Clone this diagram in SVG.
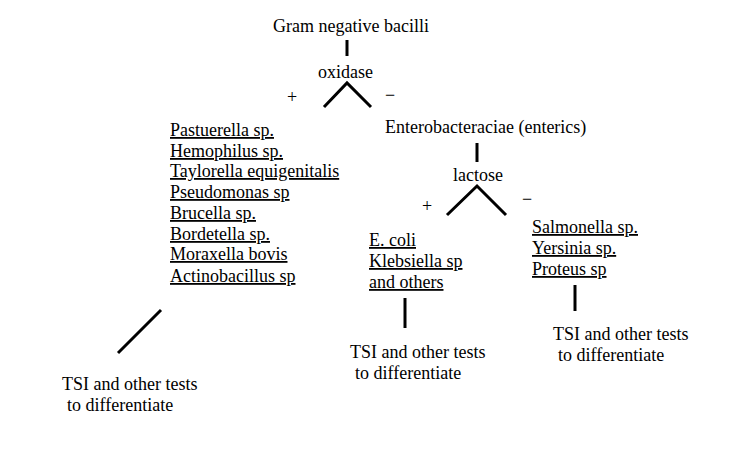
<svg xmlns="http://www.w3.org/2000/svg" width="736" height="465" viewBox="0 0 736 465">
<style>
text{font-family:"Liberation Serif","Times New Roman",serif;font-size:18px;fill:#000}
.u{text-decoration:underline}
.c{stroke:#000;stroke-width:3;fill:none}
</style>
<rect width="736" height="465" fill="#fff"/>
<g id="connectors">
<line class="c" x1="347" y1="40" x2="347" y2="56"/>
<polyline class="c" points="324,107 347,83 371,107"/>
<line class="c" x1="477" y1="143" x2="477" y2="162"/>
<polyline class="c" points="447,215 477,186 506,215"/>
<line class="c" x1="161" y1="310" x2="118" y2="353"/>
<line class="c" x1="405" y1="298" x2="405" y2="328"/>
<line class="c" x1="575" y1="285" x2="575" y2="311"/>
</g>
<g id="root"><text x="273" y="32">Gram negative bacilli</text></g>
<g id="oxidase"><text x="318" y="78">oxidase</text>
<text x="287" y="103">+</text><text x="385" y="101">−</text></g>
<g id="oxidase-positive">
<text class="u" x="170" y="136">Pastuerella sp.</text>
<text class="u" x="170" y="157">Hemophilus sp.</text>
<text class="u" x="170" y="177">Taylorella equigenitalis</text>
<text class="u" x="170" y="198">Pseudomonas sp</text>
<text class="u" x="170" y="219">Brucella sp.</text>
<text class="u" x="170" y="240">Bordetella sp.</text>
<text class="u" x="170" y="260">Moraxella bovis</text>
<text class="u" x="170" y="282">Actinobacillus sp</text>
</g>
<g id="enterics"><text x="385" y="133">Enterobacteraciae (enterics)</text></g>
<g id="lactose"><text x="453" y="181">lactose</text>
<text x="422" y="212">+</text><text x="522" y="205">−</text></g>
<g id="lactose-positive">
<text class="u" x="369" y="246">E. coli</text>
<text class="u" x="369" y="267">Klebsiella sp</text>
<text class="u" x="369" y="288">and others</text>
</g>
<g id="lactose-negative">
<text class="u" x="532" y="233">Salmonella sp.</text>
<text class="u" x="532" y="254">Yersinia sp.</text>
<text class="u" x="532" y="275">Proteus sp</text>
</g>
<g id="tsi-left"><text x="62" y="390">TSI and other tests</text><text x="67" y="411">to differentiate</text></g>
<g id="tsi-mid"><text x="350" y="358">TSI and other tests</text><text x="355" y="379">to differentiate</text></g>
<g id="tsi-right"><text x="553" y="340">TSI and other tests</text><text x="558" y="361">to differentiate</text></g>
</svg>
